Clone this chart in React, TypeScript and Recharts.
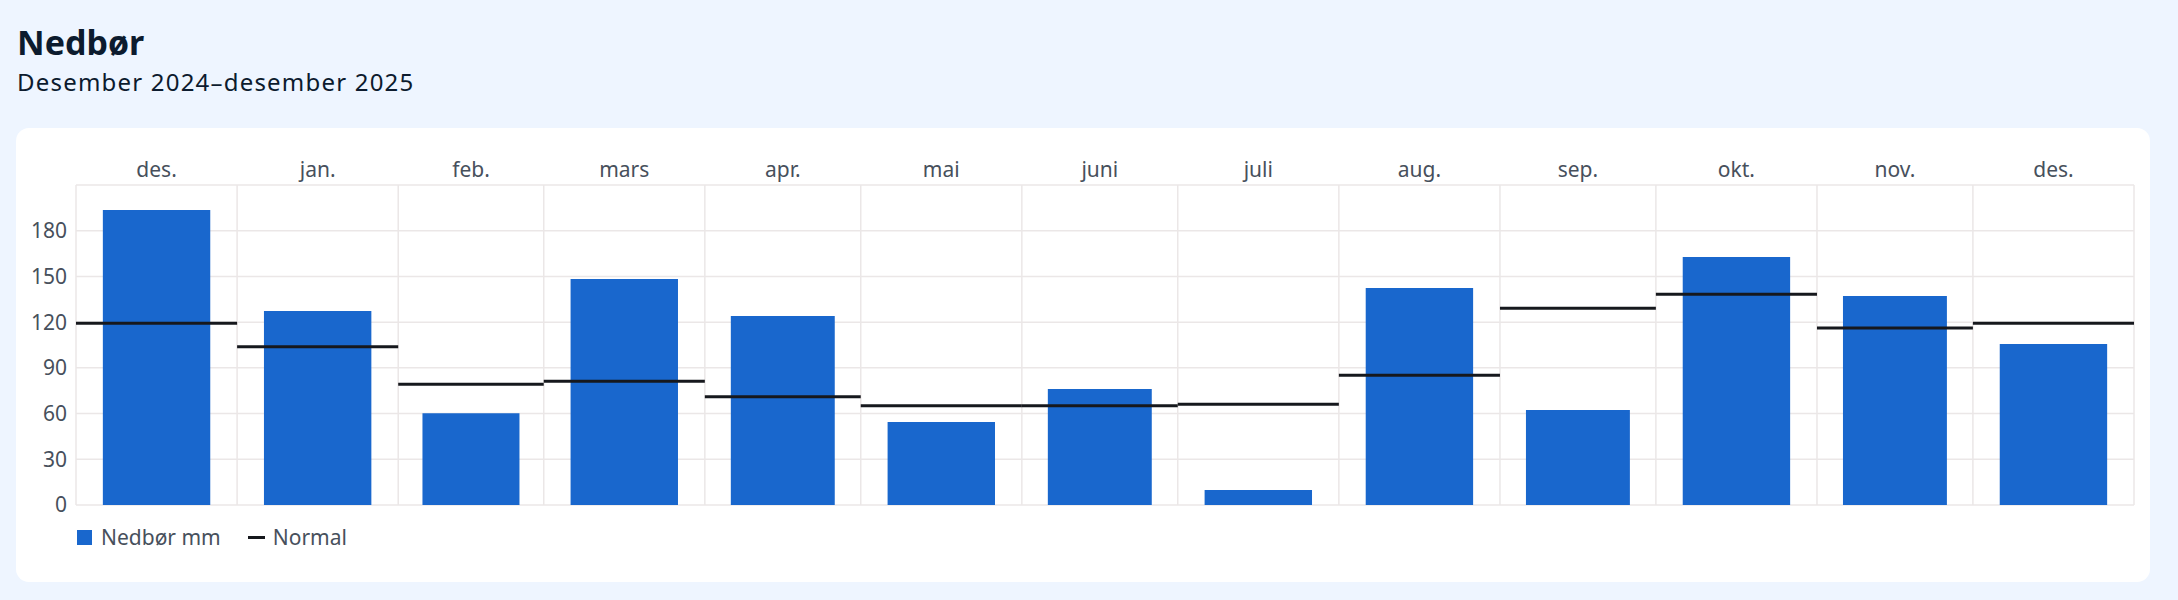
import {
  ComposedChart,
  XAxis,
  YAxis,
  CartesianGrid,
  ReferenceArea,
  ReferenceLine,
} from 'recharts';

// Monthly precipitation vs. normal, Dec 2024 – Dec 2025
const MONTHS = ['des.', 'jan.', 'feb.', 'mars', 'apr.', 'mai', 'juni', 'juli', 'aug.', 'sep.', 'okt.', 'nov.', 'des.'];
const DAYS = [31, 31, 28, 31, 30, 31, 30, 31, 31, 30, 31, 30, 31];
const PRECIP = [193.6, 127.3, 60.2, 148.3, 124, 54.5, 76.1, 9.8, 142.4, 62.3, 162.7, 137.2, 105.7];
const NORMAL = [119.2, 103.9, 79.2, 81.2, 71.1, 65.2, 65.2, 66.1, 85.1, 129.1, 138.3, 116.2, 119.2];
const Y_TICKS = [0, 30, 60, 90, 120, 150, 180, 210];
const Y_MAX = 210;

const FONT = '"Noto Sans", sans-serif';
const BAR_COLOR = '#1967cd';
const NORMAL_COLOR = '#16181d';
const GRID_COLOR = '#ebe7e7';
const TEXT_COLOR = '#47505c';
const TITLE_COLOR = '#0c1b2e';

// months are laid out on a day axis, so each band is as wide as its month
let acc = 0;
const rows = MONTHS.map((label, i) => {
  const start = acc;
  acc += DAYS[i];
  return {
    label,
    start,
    end: acc,
    mid: start + DAYS[i] / 2,
    precip: PRECIP[i],
    normal: NORMAL[i],
  };
});
const TOTAL_DAYS = acc;
const boundaries = [0, ...rows.map(r => r.end)];

export default function App() {
  return (
    <div
      style={{
        position: 'absolute',
        left: 0,
        top: 0,
        width: 2178,
        height: 600,
        background: '#eef5ff',
        fontFamily: FONT,
        overflow: 'hidden',
      }}
    >
      <div
        style={{
          position: 'absolute',
          left: 17,
          top: 25,
          fontWeight: 700,
          fontSize: 34,
          lineHeight: '34px',
          color: TITLE_COLOR,
        }}
      >
        Nedbør
      </div>
      <div
        style={{
          position: 'absolute',
          left: 17,
          top: 70,
          fontSize: 24,
          lineHeight: '24px',
          letterSpacing: 1.2,
          color: TITLE_COLOR,
        }}
      >
        Desember 2024–desember 2025
      </div>

      <div
        style={{
          position: 'absolute',
          left: 16,
          top: 128,
          width: 2134,
          height: 454,
          borderRadius: 13,
          background: '#ffffff',
        }}
      />

      <div style={{ position: 'absolute', left: 0, top: 0 }}>
        <ComposedChart
          width={2178}
          height={600}
          data={rows}
          margin={{ top: 155, right: 44, bottom: 95, left: 16 }}
        >
          <CartesianGrid vertical={false} stroke={GRID_COLOR} strokeWidth={1.5} />
          <XAxis
            orientation="top"
            type="number"
            dataKey="mid"
            domain={[0, TOTAL_DAYS]}
            ticks={rows.map(r => r.mid)}
            interval={0}
            allowDataOverflow
            height={30}
            axisLine={false}
            tickLine={false}
            tickSize={0}
            tickMargin={8}
            tick={{ fontSize: 21, fill: TEXT_COLOR, fontFamily: FONT }}
            tickFormatter={v => rows.find(r => r.mid === v)?.label ?? ''}
          />
          <YAxis
            type="number"
            domain={[0, Y_MAX]}
            ticks={Y_TICKS}
            interval={0}
            allowDataOverflow
            width={60}
            axisLine={false}
            tickLine={false}
            tickSize={0}
            tickMargin={9}
            tick={{ fontSize: 21, fill: TEXT_COLOR, fontFamily: FONT }}
            tickFormatter={v => (v === Y_MAX ? '' : String(v))}
          />
          {boundaries.map(b => (
            <ReferenceLine key={`b${b}`} x={b} stroke={GRID_COLOR} strokeWidth={1.5} />
          ))}
          {rows.map(r => (
            <ReferenceArea
              key={`p${r.start}`}
              x1={r.start + (r.end - r.start) / 6}
              x2={r.end - (r.end - r.start) / 6}
              y1={0}
              y2={r.precip}
              fill={BAR_COLOR}
              fillOpacity={1}
              stroke="none"
              ifOverflow="visible"
            />
          ))}
          {rows.map(r => (
            <ReferenceLine
              key={`n${r.start}`}
              segment={[
                { x: r.start, y: r.normal },
                { x: r.end, y: r.normal },
              ]}
              stroke={NORMAL_COLOR}
              strokeWidth={3}
            />
          ))}
        </ComposedChart>
      </div>

      {/* legend */}
      <div
        style={{
          position: 'absolute',
          left: 77,
          top: 525,
          display: 'flex',
          alignItems: 'center',
          fontSize: 21,
          lineHeight: '24px',
          color: TEXT_COLOR,
        }}
      >
        <span style={{ width: 15, height: 15, background: BAR_COLOR, display: 'inline-block' }} />
        <span style={{ marginLeft: 9 }}>Nedbør mm</span>
        <span
          style={{
            width: 17,
            height: 3,
            background: NORMAL_COLOR,
            display: 'inline-block',
            marginLeft: 27,
          }}
        />
        <span style={{ marginLeft: 8 }}>Normal</span>
      </div>
    </div>
  );
}
